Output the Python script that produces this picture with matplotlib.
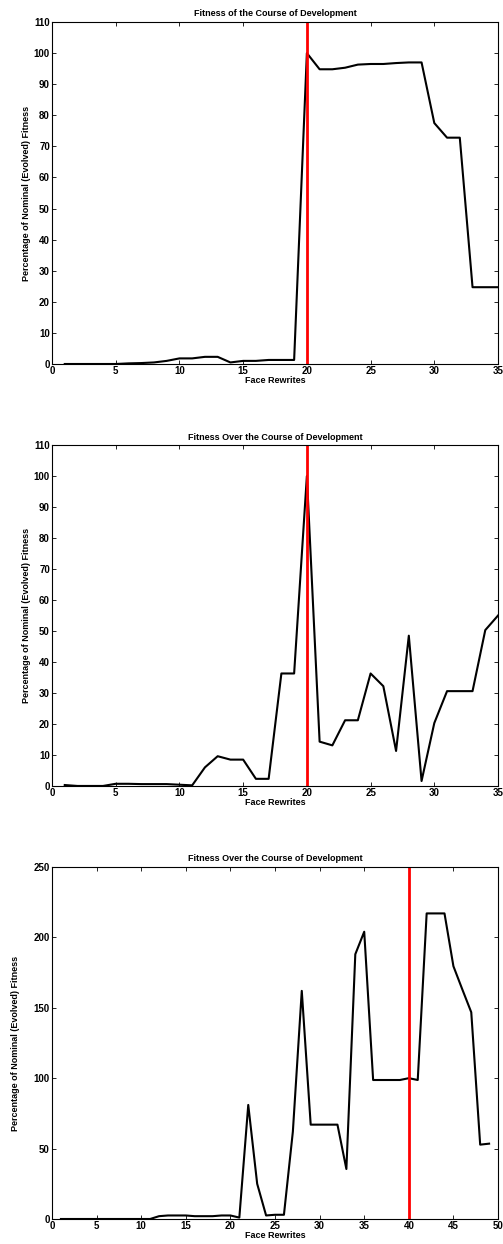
import numpy as np
import matplotlib.pyplot as plt

plt.rcParams['font.family'] = ['Liberation Sans', 'DejaVu Sans']
plt.rcParams['font.weight'] = 'bold'
plt.rcParams['font.size'] = 6.5

# Datos
x1 = list(range(1, 36))
y1 = [0, 0, 0, 0, 0, 0.2, 0.3, 0.5, 1.0, 1.8, 1.8, 2.3, 2.3, 0.5, 1.0,
      1.0, 1.3, 1.3, 1.3, 100, 94.8, 94.8, 95.3, 96.3, 96.5, 96.5, 96.8,
      97.0, 97.0, 77.5, 72.8, 72.8, 24.7, 24.7, 24.7]

x2 = list(range(1, 36))
y2 = [0.3, 0, 0, 0, 0.7, 0.7, 0.6, 0.6, 0.6, 0.4, 0.2, 6.0, 9.6, 8.5, 8.5,
      2.3, 2.3, 36.3, 36.3, 100, 14.3, 13.1, 21.2, 21.2, 36.3, 32.2, 11.3,
      48.5, 1.6, 20.3, 30.6, 30.6, 30.6, 50.3, 55.0]

x3 = list(range(1, 50))
y3 = [0, 0, 0, 0, 0, 0, 0, 0, 0, 0, 0, 2.0, 2.5, 2.5, 2.5, 2.0, 2.0, 2.0,
      2.5, 2.5, 1.0, 81, 25, 2.5, 3.0, 3.0, 62, 162, 67, 67, 67, 67, 35.5,
      188, 204, 98.7, 98.7, 98.7, 98.7, 100, 98.7, 217, 217, 217, 179.5,
      163, 146.8, 52.8, 53.5]

titles = ['Fitness of the Course of Development',
          'Fitness Over the Course of Development',
          'Fitness Over the Course of Development']
marks = [20, 20, 40]
xlims = [35, 35, 50]
ylims = [110, 110, 250]
ysteps = [10, 10, 50]
ylabpads = [2, 2, 10]

# Posiciones de los ejes [izq, abajo, ancho, alto]
boxes = [[0.1034, 0.7074, 0.8867, 0.2749],
         [0.1034, 0.3682, 0.8867, 0.2740],
         [0.1034, 0.0201, 0.8867, 0.2830]]

fig = plt.figure(figsize=(5.03, 12.44), dpi=100)

for i, (x, y) in enumerate([(x1, y1), (x2, y2), (x3, y3)]):
    ax = fig.add_axes(boxes[i])
    ax.plot(x, y, color='black', linewidth=1.5)
    ax.axvline(marks[i], color='red', linewidth=2)
    ax.set_xlim(0, xlims[i])
    ax.set_ylim(0, ylims[i])
    ax.set_xticks(np.arange(0, xlims[i] + 1, 5))
    ax.set_yticks(np.arange(0, ylims[i] + 1, ysteps[i]))
    ax.tick_params(direction='in', top=True, right=True, length=3, width=0.6,
                   pad=1.5, labelsize=7)
    for s in ax.spines.values():
        s.set_linewidth(0.8)
    ax.set_title(titles[i], fontsize=6.5, fontweight='bold', pad=4)
    ax.set_xlabel('Face Rewrites', fontsize=6.5, fontweight='bold', labelpad=0)
    ax.set_ylabel('Percentage of Nominal (Evolved) Fitness', fontsize=6.5,
                  fontweight='bold', labelpad=ylabpads[i])

fig.savefig('out.png', dpi=100)
